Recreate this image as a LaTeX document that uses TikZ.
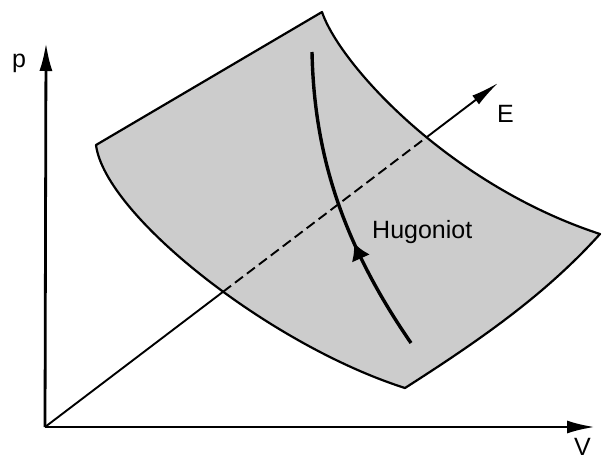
\documentclass[tikz,border=0pt]{standalone}
\usepackage{fontspec}
\setmainfont{Liberation Sans}
\usetikzlibrary{arrows.meta,decorations.markings,calc}
\begin{document}
\begin{tikzpicture}[x=1pt,y=-1pt,
  axis/.style={line width=2.8pt,-{Latex[length=28pt,width=13pt]}},
  eaxis/.style={line width=1.9pt},
  surf/.style={draw,line width=2.2pt,fill=gray!40,line join=round},
  hug/.style={line width=3.4pt},
  lab/.style={font=\fontsize{25}{25}\selectfont,anchor=base west,inner sep=0pt}]
\useasboundingbox (0,0) rectangle (602,461);
\coordinate (O) at (45,427);
\coordinate (ptip) at (46,43);
\coordinate (Vtip) at (595,427);
\coordinate (Etip) at (498,83);
\coordinate (L) at (96,145);
\coordinate (T) at (322,12);
\coordinate (R) at (600,234);
\coordinate (B) at (405,388);
\coordinate (hb) at (411,343);
\coordinate (ht) at (312,52);
\coordinate (c1) at ($(O)!0.393!(Etip)$);
\coordinate (c2) at ($(O)!0.845!(Etip)$);
% surface
\path[surf] (L) -- (T) .. controls (340,65) and (450,185) .. (R)
  .. controls (545,295) and (480,340) .. (B)
  .. controls (270,345) and (105,215) .. (L) -- cycle;
% E axis
\draw[eaxis] (O) -- (c1);
\draw[eaxis,dashed,dash pattern=on 10pt off 5pt] (c1) -- (c2);
\draw[eaxis,-{Latex[length=28pt,width=11pt]}] (c2) -- (Etip);
% Hugoniot
\draw[hug,postaction={decorate},decoration={markings,
  mark=at position 0.37 with {\arrow{Latex[length=17pt,width=20pt]}}}]
  (hb) .. controls (340,240) and (314,150) .. (ht);
% axes
\draw[axis] (O) -- (ptip);
\draw[axis] (O) -- (Vtip);
% labels
\node[lab] (plab) at (12,67) {p};
\node[lab] (elab) at (497,122) {E};
\node[lab] (vlab) at (574,455) {V};
\node[lab] (hlab) at (372,238) {Hugoniot};
\end{tikzpicture}
\end{document}
